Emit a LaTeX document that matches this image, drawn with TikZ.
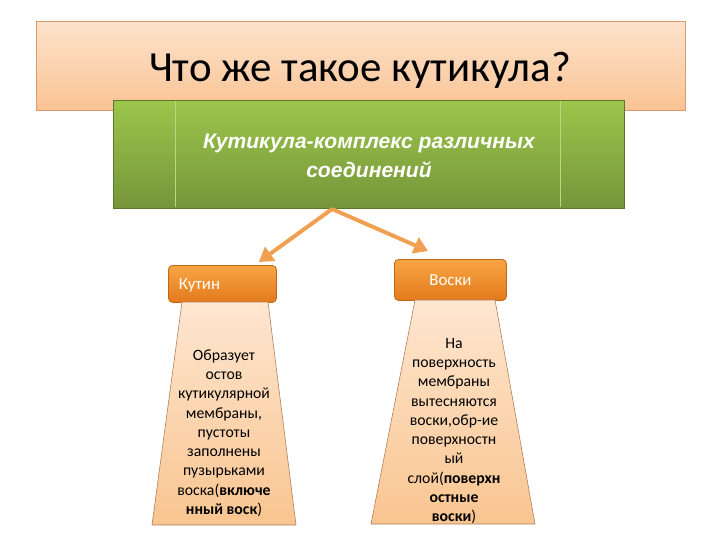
\documentclass[tikz,border=0pt]{standalone}
\usepackage{fontspec}
\setmainfont{Carlito}
\newfontfamily\headfont{Liberation Sans}
\usetikzlibrary{arrows.meta,calc}

\definecolor{peachtop}{HTML}{FDE3CC}
\definecolor{peachbot}{HTML}{F9C394}
\definecolor{peachline}{HTML}{D99A6C}
\definecolor{greentop}{HTML}{9CC64B}
\definecolor{greenbot}{HTML}{76953A}
\definecolor{orangetop}{HTML}{F8A545}
\definecolor{orangebot}{HTML}{E27A1C}
\definecolor{arrowcol}{HTML}{F0A050}
\definecolor{traptop}{HTML}{FEE6D0}
\definecolor{trapbot}{HTML}{F9C590}

\tikzset{
  titlebox/.style={draw=peachline, line width=0.8pt, top color=peachtop, bottom color=peachbot,
    minimum width=649*0.025cm, minimum height=89*0.025cm},
  titlefont/.style={font=\fontsize{30.5}{36}\selectfont},
  mainbox/.style={draw=greenbot!80!black, line width=0.6pt, top color=greentop, bottom color=greenbot,
    minimum width=511*0.025cm, minimum height=108*0.025cm},
  mainlabel/.style={text=white, align=center, font=\headfont\bfseries\itshape\fontsize{15}{20.5}\selectfont},
  headbox/.style={draw=orangebot!85!black, line width=0.6pt, rounded corners=3pt,
    top color=orangetop, bottom color=orangebot, text=white, font=\fontsize{12}{14}\selectfont},
  trap/.style={draw=peachline!80!black, line width=0.4pt, top color=traptop, bottom color=trapbot},
  bodytext/.style={align=center, font=\fontsize{11.2}{13.7}\selectfont},
  branch/.style={draw=arrowcol, line width=2.8pt, -{Triangle[width=12pt,length=10pt]}},
}

\begin{document}
\begin{tikzpicture}[x=0.025cm, y=-0.025cm]
  \useasboundingbox (0,0) rectangle (720,540);

  % title
  \node[titlebox] (title) at (361,66) {};
  \node[titlefont] (titletext) at (360,70) {Что же такое кутикула?};

  % main box
  \node[mainbox] (main) at (368.5,154) {};
  \draw[greentop!70!white, line width=0.4pt] (175,101) -- (175,207) (560,101) -- (560,207);
  \node[mainlabel] (maintext) at (369,156) {Кутикула-комплекс различных\\соединений};

  % heads
  \node[headbox, minimum width=108*0.025cm, minimum height=37*0.025cm, anchor=north west] (kutin) at (168,265) {};
  \node[text=white, font=\fontsize{12}{14}\selectfont, anchor=west] (kutinlabel) at (174,285) {Кутин};
  \node[headbox, minimum width=112*0.025cm, minimum height=41*0.025cm, anchor=north west] (voski) at (394,259) {Воски};

  % branches
  \coordinate (fork) at (332,209);
  \draw[branch] (fork) -- ($(kutin.north east)+(-18,-3)$);
  \draw[branch] (fork) -- ($(voski.north west)+(34,-8)$);

  % bodies
  \path[trap] (152,525) -- (182,302) -- (268,302) -- (296,525) -- cycle;
  \path[trap] (371,524) -- (415,300) -- (495,300) -- (535,524) -- cycle;
  \node[bodytext] (kutintext) at (224,433) {Образует\\остов\\кутикулярной\\мембраны,\\пустоты\\заполнены\\пузырьками\\воска(\textbf{включе}\\\textbf{нный воск})};
  \node[bodytext] (voskitext) at (454,431) {На\\поверхность\\мембраны\\вытесняются\\воски,обр-ие\\поверхностн\\ый\\слой(\textbf{поверхн}\\\textbf{остные}\\\textbf{воски})};
\end{tikzpicture}
\end{document}
